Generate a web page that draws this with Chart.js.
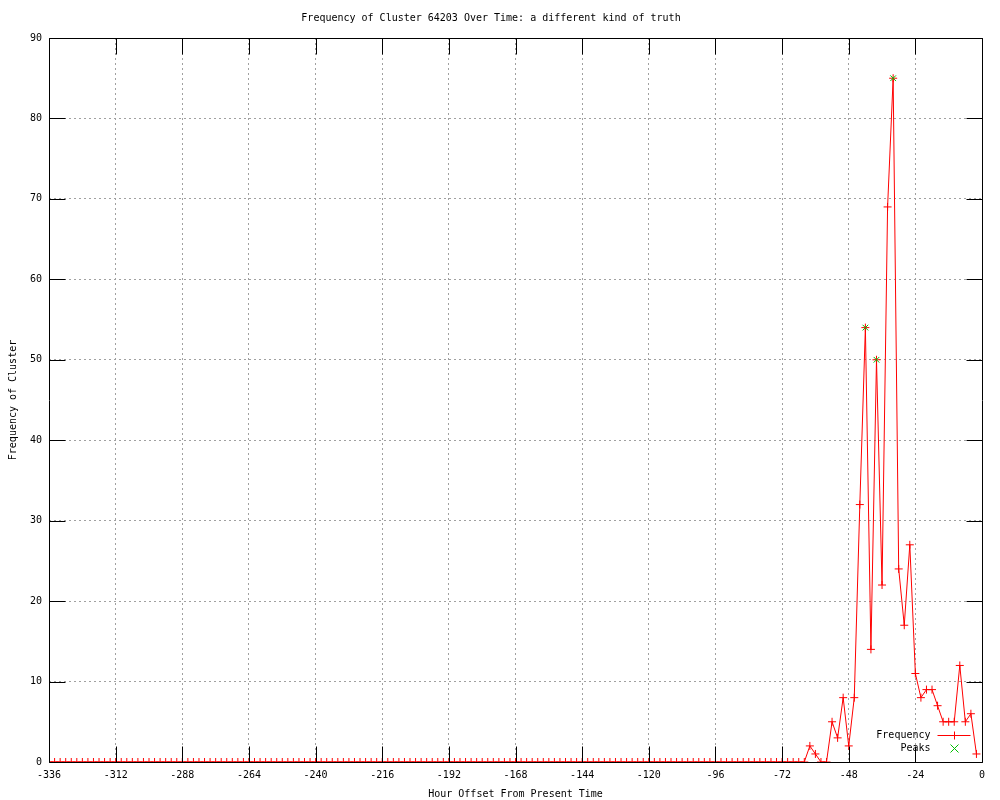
<!DOCTYPE html>
<html>
<head>
<meta charset="utf-8">
<script src="https://cdn.jsdelivr.net/npm/chart.js@4/dist/chart.umd.min.js"></script>
<style>
  html, body { margin: 0; padding: 0; background: #fff; }
  #wrap { width: 1000px; height: 800px; }
</style>
</head>
<body>
<div id="wrap"><canvas id="chart" width="1000" height="800"></canvas></div>
<script>
// hours before now, every 2 hours
var hours = [
  -336, -334, -332, -330, -328, -326, -324, -322, -320, -318, -316, -314,
  -312, -310, -308, -306, -304, -302, -300, -298, -296, -294, -292, -290,
  -288, -286, -284, -282, -280, -278, -276, -274, -272, -270, -268, -266,
  -264, -262, -260, -258, -256, -254, -252, -250, -248, -246, -244, -242,
  -240, -238, -236, -234, -232, -230, -228, -226, -224, -222, -220, -218,
  -216, -214, -212, -210, -208, -206, -204, -202, -200, -198, -196, -194,
  -192, -190, -188, -186, -184, -182, -180, -178, -176, -174, -172, -170,
  -168, -166, -164, -162, -160, -158, -156, -154, -152, -150, -148, -146,
  -144, -142, -140, -138, -136, -134, -132, -130, -128, -126, -124, -122,
  -120, -118, -116, -114, -112, -110, -108, -106, -104, -102, -100, -98,
  -96, -94, -92, -90, -88, -86, -84, -82, -80, -78, -76, -74,
  -72, -70, -68, -66, -64, -62, -60, -58, -56, -54, -52, -50,
  -48, -46, -44, -42, -40, -38, -36, -34, -32, -30, -28, -26,
  -24, -22, -20, -18, -16, -14, -12, -10, -8, -6, -4, -2
];
var frequency = [
  0, 0, 0, 0, 0, 0, 0, 0, 0, 0, 0, 0,
  0, 0, 0, 0, 0, 0, 0, 0, 0, 0, 0, 0,
  0, 0, 0, 0, 0, 0, 0, 0, 0, 0, 0, 0,
  0, 0, 0, 0, 0, 0, 0, 0, 0, 0, 0, 0,
  0, 0, 0, 0, 0, 0, 0, 0, 0, 0, 0, 0,
  0, 0, 0, 0, 0, 0, 0, 0, 0, 0, 0, 0,
  0, 0, 0, 0, 0, 0, 0, 0, 0, 0, 0, 0,
  0, 0, 0, 0, 0, 0, 0, 0, 0, 0, 0, 0,
  0, 0, 0, 0, 0, 0, 0, 0, 0, 0, 0, 0,
  0, 0, 0, 0, 0, 0, 0, 0, 0, 0, 0, 0,
  0, 0, 0, 0, 0, 0, 0, 0, 0, 0, 0, 0,
  0, 0, 0, 0, 0, 2, 1, 0, 0, 5, 3, 8,
  2, 8, 32, 54, 14, 50, 22, 69, 85, 24, 17, 27,
  11, 8, 9, 9, 7, 5, 5, 5, 12, 5, 6, 1
];
var peakHours = [-42, -38, -32];
var peakValues = [54, 50, 85];

var xTicks = [-336, -312, -288, -264, -240, -216, -192, -168, -144, -120, -96, -72, -48, -24, 0];
var yTicks = [0, 10, 20, 30, 40, 50, 60, 70, 80, 90];

var FONT = "'DejaVu Sans Mono', monospace";

function toPoints(xs, ys) {
  var out = [];
  for (var i = 0; i < xs.length; i++) out.push({ x: xs[i], y: ys[i] });
  return out;
}

// gnuplot-ish frame: border box, inward tick marks on all four sides, legend
var framePlugin = {
  id: 'frame',
  afterDatasetsDraw: function (chart) {
    var ctx = chart.ctx;
    var a = chart.chartArea;
    var xs = chart.scales.x, ys = chart.scales.y;
    var L = Math.round(a.left) + 0.5, R = Math.round(a.right) + 0.5;
    var T = Math.round(a.top) + 0.5, B = Math.round(a.bottom) + 0.5;
    var tl = 16;
    ctx.save();
    ctx.strokeStyle = '#000';
    ctx.lineWidth = 1;
    ctx.beginPath();
    ctx.rect(L, T, R - L, B - T);
    xTicks.forEach(function (v) {
      var px = Math.round(xs.getPixelForValue(v)) + 0.5;
      ctx.moveTo(px, B); ctx.lineTo(px, B - tl);
      ctx.moveTo(px, T); ctx.lineTo(px, T + tl);
    });
    yTicks.forEach(function (v) {
      var py = Math.round(ys.getPixelForValue(v)) + 0.5;
      ctx.moveTo(L, py); ctx.lineTo(L + tl, py);
      ctx.moveTo(R, py); ctx.lineTo(R - tl, py);
    });
    ctx.stroke();

    // legend, bottom right inside the plot
    var names = ['Frequency', 'Peaks'];
    var textRight = R - 52;
    var symX = R - 28;
    var y1 = B - 27, y2 = B - 14;
    ctx.fillStyle = '#000';
    ctx.font = '10px ' + FONT;
    ctx.textAlign = 'right';
    ctx.textBaseline = 'middle';
    ctx.fillText(names[0], textRight, y1);
    ctx.fillText(names[1], textRight, y2);
    ctx.strokeStyle = '#ff0000';
    ctx.beginPath();
    ctx.moveTo(R - 45, y1); ctx.lineTo(R - 12, y1);
    ctx.moveTo(symX, y1 - 4); ctx.lineTo(symX, y1 + 4);
    ctx.stroke();
    ctx.strokeStyle = '#00c000';
    ctx.beginPath();
    ctx.moveTo(symX - 4, y2 - 4); ctx.lineTo(symX + 4, y2 + 4);
    ctx.moveTo(symX - 4, y2 + 4); ctx.lineTo(symX + 4, y2 - 4);
    ctx.stroke();
    ctx.restore();
  }
};

var c = document.getElementById('chart');
var ctx = c.getContext('2d');
var myChart = new Chart(ctx, {
  type: 'line',
  data: {
    datasets: [{
      label: 'Frequency',
      data: toPoints(hours, frequency),
      borderColor: '#ff0000',
      backgroundColor: '#ff0000',
      borderWidth: 1,
      pointStyle: 'cross',
      pointRadius: 4,
      pointBorderWidth: 1,
      pointBorderColor: '#ff0000',
      tension: 0,
      fill: false,
      clip: 0,
      order: 2
    }, {
      label: 'Peaks',
      data: toPoints(peakHours, peakValues),
      showLine: false,
      borderColor: '#00c000',
      backgroundColor: '#00c000',
      pointStyle: 'crossRot',
      pointRadius: 4,
      pointBorderWidth: 1,
      pointBorderColor: '#00c000',
      clip: 0,
      order: 1
    }]
  },
  plugins: [framePlugin],
  options: {
    responsive: false,
    animation: false,
    events: [],
    layout: { padding: { left: 0, right: 18, top: 0, bottom: 0 } },
    plugins: {
      legend: { display: false },
      tooltip: { enabled: false },
      title: {
        display: true,
        text: 'Frequency of Cluster 64203 Over Time: a different kind of truth',
        color: '#000',
        font: { family: FONT, size: 10, weight: 'normal' },
        padding: { top: 12, bottom: 14 }
      }
    },
    scales: {
      x: {
        type: 'linear',
        min: -336,
        max: 0,
        afterBuildTicks: function (axis) {
          axis.ticks = xTicks.map(function (v) { return { value: v }; });
        },
        ticks: {
          color: '#000',
          font: { family: FONT, size: 10 },
          padding: 7,
          maxRotation: 0,
          autoSkip: false,
          callback: function (v) { return String(v); }
        },
        grid: { color: '#a0a0a0', drawTicks: false, lineWidth: 1 },
        border: { display: false, dash: [2, 3] },
        title: {
          display: true,
          text: 'Hour Offset From Present Time',
          color: '#000',
          font: { family: FONT, size: 10 },
          padding: { top: 0, bottom: 0 }
        }
      },
      y: {
        type: 'linear',
        min: 0,
        max: 90,
        afterBuildTicks: function (axis) {
          axis.ticks = yTicks.map(function (v) { return { value: v }; });
        },
        ticks: {
          color: '#000',
          font: { family: FONT, size: 10 },
          padding: 7,
          autoSkip: false,
          callback: function (v) { return String(v); }
        },
        grid: { color: '#a0a0a0', drawTicks: false, lineWidth: 1 },
        border: { display: false, dash: [2, 3] },
        title: {
          display: true,
          text: 'Frequency of Cluster',
          color: '#000',
          font: { family: FONT, size: 10 },
          padding: { top: 7, bottom: 4 }
        }
      }
    }
  }
});
</script>
</body>
</html>
